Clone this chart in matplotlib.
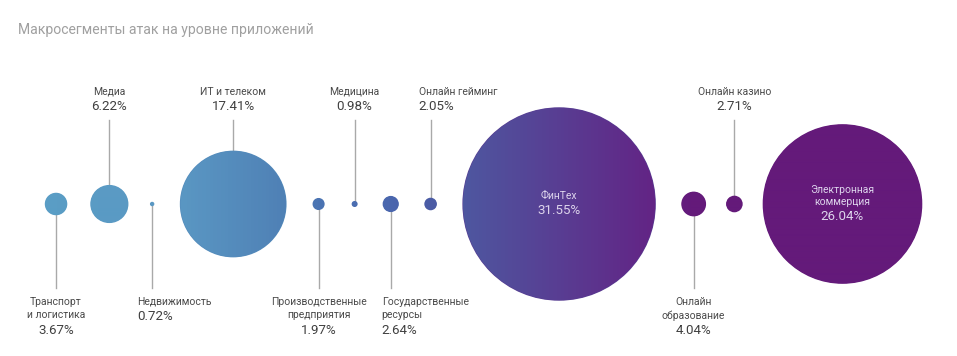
import numpy as np
import matplotlib
matplotlib.use("Agg")
import matplotlib.pyplot as plt
from matplotlib.patches import Circle
from matplotlib.colors import LinearSegmentedColormap
from matplotlib import font_manager as fm

# ---------------- data ----------------
title = "Макросегменты атак на уровне приложений"
categories = ["Транспорт\nи логистика", "Медиа", "Недвижимость", "ИТ и телеком",
              "Производственные\nпредприятия", "Медицина", "Государственные\nресурсы",
              "Онлайн гейминг", "ФинТех", "Онлайн\nобразование", "Онлайн казино",
              "Электронная\nкоммерция"]
values = [3.67, 6.22, 0.72, 17.41, 1.97, 0.98, 2.64, 2.05, 31.55, 4.04, 2.71, 26.04]

# ---------------- layout / style ----------------
W, H = 957, 356
label_side = ["bottom", "top", "bottom", "top", "bottom", "top", "bottom", "top",
              "inside", "bottom", "top", "inside"]
label_ha = ["center", "center", "left", "center", "center", "center", "left", "left",
            "center", "center", "center", "center"]
label_dx = [0, 0, -15, 0, 0, 0, -9, -12, 0, 0, 0, 0]
gaps = [23, 21.5, 25.5, 26, 27, 25, 25.5, 25.5, 25.5, 20, 20]
left_edge = 44.8
cy = 204
px_per_pct = 3.065
top_line_y = 120
bottom_line_y = 288

stops = [(0.0, "#5a9ec6"), (56 / W, "#5a9dc5"), (180 / W, "#5a97c3"),
         (287 / W, "#4f80b5"), (318 / W, "#4b74b3"), (390 / W, "#4a67ae"),
         (431 / W, "#4b5ca5"), (463 / W, "#4e57a0"), (656 / W, "#632485"),
         (694 / W, "#641a7a"), (1.0, "#641a7a")]
cmap = LinearSegmentedColormap.from_list("grad", stops)

names = {f.name for f in fm.fontManager.ttflist}
main_font = "Roboto" if "Roboto" in names else "Inter"
font = [main_font, "DejaVu Sans"]
plt.rcParams["font.family"] = font

fig = plt.figure(figsize=(W / 100, H / 100), dpi=100)
ax = fig.add_axes([0, 0, 1, 1])
ax.set_xlim(0, W)
ax.set_ylim(H, 0)
ax.axis("off")

radii = [v * px_per_pct for v in values]
centers = []
x = left_edge
for i, r in enumerate(radii):
    if i > 0:
        x += gaps[i - 1]
    centers.append(x + r)
    x += 2 * r

grad = np.linspace(0, 1, W).reshape(1, -1)

for i, (cx, r) in enumerate(zip(centers, radii)):
    base = Circle((cx, cy), r, facecolor=cmap(cx / W), edgecolor="none", zorder=2)
    ax.add_patch(base)
    im = ax.imshow(grad, cmap=cmap, extent=(0, W, H, 0), aspect="auto",
                   interpolation="bilinear", zorder=3)
    clip = Circle((cx, cy), max(r - 0.6, 0.5), transform=ax.transData)
    im.set_clip_path(clip)

line_col = "#a9a9a9"
name_col = "#4a4a4a"
pct_col = "#404040"
name_fs = 7.5
pct_fs = 9.6
name_w = "normal"
pct_w = "normal"

for i, (cat, v, cx, r) in enumerate(zip(categories, values, centers, radii)):
    side = label_side[i]
    tx = cx + label_dx[i]
    pct = f"{v:.2f}%"
    kw = dict(ha=label_ha[i], va="center")
    if side == "top":
        ax.plot([cx, cx], [top_line_y, cy - r], color=line_col, lw=1.0, zorder=1)
        ax.text(tx, 92, cat, fontsize=name_fs, color=name_col, fontweight=name_w, **kw)
        ax.text(tx, 107, pct, fontsize=pct_fs, color=pct_col, fontweight=pct_w, **kw)
    elif side == "bottom":
        ax.plot([cx, cx], [cy + r, bottom_line_y], color=line_col, lw=1.0, zorder=1)
        lines = cat.split("\n")
        y = 302
        for ln in lines:
            ax.text(tx, y, ln, fontsize=name_fs, color=name_col, fontweight=name_w, **kw)
            y += 13.5
        ax.text(tx, y + 1, pct, fontsize=pct_fs, color=pct_col, fontweight=pct_w, **kw)
    else:
        lines = cat.split("\n")
        n = len(lines)
        y0 = cy - 8 - 6 * (n - 1)
        for j, ln in enumerate(lines):
            ax.text(cx, y0 + 12 * j, ln, fontsize=name_fs, color="#ddd4ec", zorder=5,
                    ha="center", va="center", fontweight=name_w)
        ax.text(cx, y0 + 12 * (n - 1) + 14, pct, fontsize=pct_fs, color="#ddd4ec",
                zorder=5, ha="center", va="center", fontweight=pct_w)

ax.text(18, 30, title, ha="left", va="center", fontsize=10.1, color="#a0a0a0",
        fontweight="normal")

fig.savefig("out.png", dpi=100, facecolor="white")
